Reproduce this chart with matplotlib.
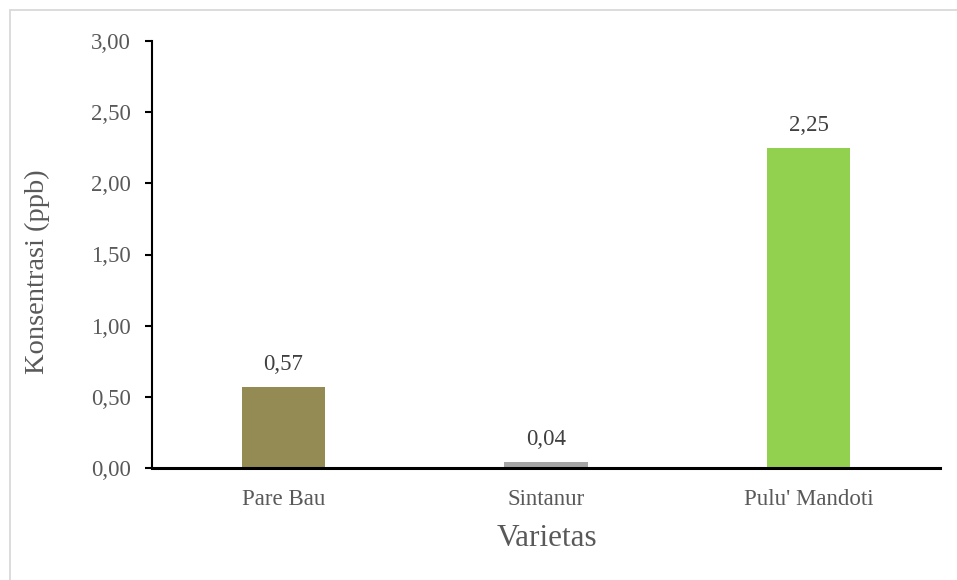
import matplotlib
matplotlib.use("Agg")
import matplotlib.pyplot as plt
from matplotlib.patches import Rectangle

categories = ["Pare Bau", "Sintanur", "Pulu' Mandoti"]
values = [0.57, 0.04, 2.25]
labels = ["0,57", "0,04", "2,25"]
colors = ["#948A54", "#A6A6A6", "#92D050"]
yticks = [0.0, 0.5, 1.0, 1.5, 2.0, 2.5, 3.0]
ytick_labels = ["0,00", "0,50", "1,00", "1,50", "2,00", "2,50", "3,00"]

plt.rcParams['font.family'] = ['Liberation Serif', 'DejaVu Serif']
txt = "#595959"

fig = plt.figure(figsize=(9.57, 5.80), dpi=100)
fig.patches.append(Rectangle((10/957, -0.1), 1.1, 1 - 10/580 + 0.1, transform=fig.transFigure,
                             fill=False, edgecolor="#D9D9D9", linewidth=1.3))
ax = fig.add_axes([152/957, 1 - 468/580, 788/957, 427/580])

x = range(len(categories))
bars = ax.bar(x, values, width=0.316, color=colors, zorder=2)
for xi, v, lab in zip(x, values, labels):
    ax.text(xi, v + 0.085, lab, ha="center", va="bottom", fontsize=16.5, color="#404040")

ax.set_xlim(-0.5, 2.5)
ax.set_ylim(0, 3.0)
ax.set_yticks(yticks)
ax.set_yticklabels(ytick_labels, fontsize=16.5, color=txt)
ax.set_xticks(list(x))
ax.set_xticklabels(categories, fontsize=16.5, color=txt)
ax.tick_params(axis="x", length=0, pad=15)
ax.tick_params(axis="y", direction="out", length=5, width=1.5, color="black", pad=10)

for s in ["top", "right"]:
    ax.spines[s].set_visible(False)
ax.spines["left"].set_linewidth(1.5)
ax.spines["bottom"].set_linewidth(2.2)
ax.spines["left"].set_color("black")
ax.spines["bottom"].set_color("black")

ax.set_ylabel("Konsentrasi (ppb)", fontsize=20.5, color=txt)
ax.set_xlabel("Varietas", fontsize=22.5, color=txt)
ax.yaxis.label.set_va("center")
ax.xaxis.label.set_va("center")
ax.yaxis.set_label_coords(-0.146, 0.46)
ax.xaxis.set_label_coords(0.501, -0.164)

fig.savefig("out.png", dpi=100)
